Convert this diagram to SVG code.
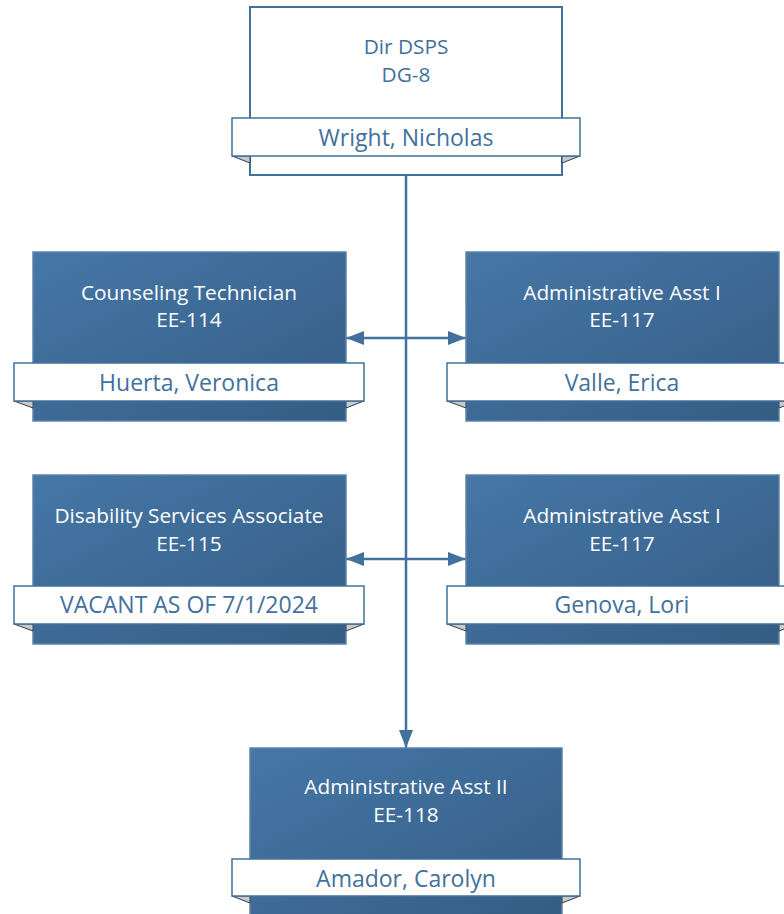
<svg xmlns="http://www.w3.org/2000/svg" width="784" height="914" viewBox="0 0 784 914">
<defs>
<linearGradient id="g" x1="0" y1="0" x2="1" y2="1">
<stop offset="0" stop-color="#4677a7"/>
<stop offset="1" stop-color="#345d84"/>
</linearGradient>
<marker id="ah" viewBox="0 0 18 14" refX="18" refY="7" markerWidth="18" markerHeight="14" markerUnits="userSpaceOnUse" orient="auto-start-reverse">
<path d="M0,0 L18,7 L0,14 Z" fill="#41719c"/>
</marker>
<style>
.box{fill:url(#g);stroke:#5e84aa;stroke-width:1.5}
.wbox{fill:#fff;stroke:#41719c;stroke-width:2}
.band{fill:#fff;stroke:#41719c;stroke-width:1.5}
.fold{fill:#c9c9c9;stroke:#2f3f50;stroke-width:1}
.t{font-family:"Open Sans","Noto Sans",sans-serif;font-size:20.8px;fill:#fff;text-anchor:middle}
.tb{font-family:"Open Sans","Noto Sans",sans-serif;font-size:20.8px;fill:#41719c;text-anchor:middle}
.n{font-family:"Open Sans","Noto Sans",sans-serif;font-size:23px;fill:#41719c;text-anchor:middle}
.c{stroke:#41719c;stroke-width:2.5;fill:none}
</style>
</defs>
<g id="connectors">
<line class="c" x1="406" y1="175" x2="406" y2="748" marker-end="url(#ah)"/>
<line class="c" x1="346" y1="338" x2="466" y2="338" marker-start="url(#ah)" marker-end="url(#ah)"/>
<line class="c" x1="346" y1="559" x2="466" y2="559" marker-start="url(#ah)" marker-end="url(#ah)"/>
</g>
<g id="dir">
<rect class="wbox" x="250" y="7" width="312" height="168"/>
<polygon class="fold" points="232,156 250,156 250,163"/>
<polygon class="fold" points="580,156 562,156 562,163"/>
<rect class="band" x="232" y="118" width="348" height="38"/>
<text class="tb" x="406" y="54">Dir DSPS</text>
<text class="tb" x="406" y="82">DG-8</text>
<text class="n" x="406" y="146">Wright, Nicholas</text>
</g>
<g id="counseling">
<rect class="box" x="33" y="252" width="313" height="169"/>
<polygon class="fold" points="14,401 33,401 33,408"/>
<polygon class="fold" points="364,401 346,401 346,408"/>
<rect class="band" x="14" y="363" width="350" height="38"/>
<text class="t" x="189" y="300">Counseling Technician</text>
<text class="t" x="189" y="327">EE-114</text>
<text class="n" x="189" y="391">Huerta, Veronica</text>
</g>
<g id="admin1a">
<rect class="box" x="466" y="252" width="313" height="169"/>
<polygon class="fold" points="447,401 466,401 466,408"/>
<polygon class="fold" points="797,401 779,401 779,408"/>
<rect class="band" x="447" y="363" width="350" height="38"/>
<text class="t" x="622" y="300">Administrative Asst I</text>
<text class="t" x="622" y="327">EE-117</text>
<text class="n" x="622" y="391">Valle, Erica</text>
</g>
<g id="disability">
<rect class="box" x="33" y="475" width="313" height="169"/>
<polygon class="fold" points="14,624 33,624 33,631"/>
<polygon class="fold" points="364,624 346,624 346,631"/>
<rect class="band" x="14" y="586" width="350" height="38"/>
<text class="t" x="189" y="523">Disability Services Associate</text>
<text class="t" x="189" y="551">EE-115</text>
<text class="n" x="189" y="613">VACANT AS OF 7/1/2024</text>
</g>
<g id="admin1b">
<rect class="box" x="466" y="475" width="313" height="169"/>
<polygon class="fold" points="447,624 466,624 466,631"/>
<polygon class="fold" points="797,624 779,624 779,631"/>
<rect class="band" x="447" y="586" width="350" height="38"/>
<text class="t" x="622" y="523">Administrative Asst I</text>
<text class="t" x="622" y="551">EE-117</text>
<text class="n" x="622" y="613">Genova, Lori</text>
</g>
<g id="admin2">
<rect class="box" x="250" y="748" width="312" height="170"/>
<polygon class="fold" points="232,896 250,896 250,903"/>
<polygon class="fold" points="580,896 562,896 562,903"/>
<rect class="band" x="232" y="859" width="348" height="37"/>
<text class="t" x="406" y="794">Administrative Asst II</text>
<text class="t" x="406" y="822">EE-118</text>
<text class="n" x="406" y="887">Amador, Carolyn</text>
</g>
</svg>
